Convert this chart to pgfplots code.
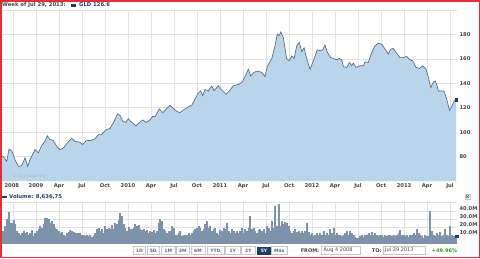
\documentclass[border=0pt]{standalone}
\usepackage{pgfplots}
\pgfplotsset{compat=1.18}
\usepackage{fontspec}
\setmainfont{DejaVu Sans}
\definecolor{areafill}{HTML}{BAD5EA}
\definecolor{lineclr}{HTML}{52687F}
\definecolor{gridclr}{HTML}{E2E2E2}
\definecolor{navy}{HTML}{1F3D6B}
\definecolor{txtgrey}{HTML}{444444}
\definecolor{volfill}{HTML}{B6C5D5}
\definecolor{voldraw}{HTML}{7E93AA}
\definecolor{redframe}{HTML}{E0303C}
\definecolor{pctgreen}{HTML}{2E9A2E}
\definecolor{btnborder}{HTML}{C8C8C8}
\definecolor{btntext}{HTML}{5A6B80}
\begin{document}
\begin{tikzpicture}[x=1pt,y=1pt]
\useasboundingbox (0,0) rectangle (480,258);
\begin{axis}[at={(0pt,77pt)}, anchor=south west, scale only axis,
  width=457pt, height=171pt,
  xmin=2008.609, xmax=2013.576, ymin=60, ymax=200,
  axis line style={draw=none}, major tick length=0pt,
  grid=major, grid style={gridclr, line width=0.6pt},
  xtick={2008.75,2009,2009.25,2009.5,2009.75,2010,2010.25,2010.5,2010.75,2011,2011.25,2011.5,2011.75,2012,2012.25,2012.5,2012.75,2013,2013.25,2013.5},
  xticklabels={,2009,Apr,Jul,Oct,2010,Apr,Jul,Oct,2011,Apr,Jul,Oct,2012,Apr,Jul,Oct,2013,Apr,Jul},
  extra x ticks={2008.609}, extra x tick labels={2008}, extra x tick style={grid=none, xticklabel style={anchor=north west, xshift=1pt}},
  ytick={80,100,120,140,160,180}, extra y ticks={200}, extra y tick labels={},
  yticklabel pos=right,
  /pgf/number format/assume math mode=true,
  ticklabel style={font=\bfseries\fontsize{5.2}{6}\selectfont, text=txtgrey},
  xticklabel style={yshift=1pt},
  yticklabel style={xshift=-1pt},
]
\addplot[fill=areafill, draw=none] coordinates {
(2008.609,81.6) (2008.645,80) (2008.682,76) (2008.707,86) (2008.736,85) (2008.772,77.5) (2008.808,72) (2008.845,72.5) (2008.881,79) (2008.910,72) (2008.935,77.5) (2008.989,85.7) (2009.025,83) (2009.062,89) (2009.098,92.5) (2009.123,97) (2009.152,94) (2009.188,93.3) (2009.225,88.4) (2009.261,85.7) (2009.297,87) (2009.334,90.6) (2009.388,95) (2009.424,92.5) (2009.478,91.7) (2009.508,89.8) (2009.544,93) (2009.606,93.4) (2009.642,94.5) (2009.678,98) (2009.714,98) (2009.761,102) (2009.805,103) (2009.840,107.6) (2009.888,115) (2009.913,113.7) (2009.943,109) (2009.978,108) (2010.003,111) (2010.041,108) (2010.087,105) (2010.123,108) (2010.160,110) (2010.196,108) (2010.239,110) (2010.269,113) (2010.294,112.6) (2010.340,119) (2010.378,116) (2010.413,118.6) (2010.457,122) (2010.486,120) (2010.530,117) (2010.565,116) (2010.601,118) (2010.656,120.8) (2010.693,122) (2010.728,127) (2010.765,132) (2010.790,133.7) (2010.812,130) (2010.837,135) (2010.873,133.7) (2010.910,137.8) (2010.938,134) (2010.982,138) (2011.019,134.5) (2011.066,131) (2011.101,133.7) (2011.145,138) (2011.199,139) (2011.236,140.5) (2011.272,145.5) (2011.308,151.5) (2011.334,146) (2011.370,149) (2011.406,150) (2011.454,149) (2011.489,145.5) (2011.515,154) (2011.562,160) (2011.598,170.7) (2011.623,180.3) (2011.645,179) (2011.660,182) (2011.688,177.6) (2011.725,160) (2011.754,158.5) (2011.780,162.5) (2011.805,160.3) (2011.834,170.7) (2011.862,173.5) (2011.888,166) (2011.914,169) (2011.943,160) (2011.979,151.5) (2012.015,158.4) (2012.058,167.5) (2012.087,166.6) (2012.117,167.5) (2012.142,171.3) (2012.167,165.3) (2012.203,161) (2012.232,160.3) (2012.269,159.2) (2012.297,160.3) (2012.323,159.2) (2012.341,153.7) (2012.378,153) (2012.406,157) (2012.432,154.3) (2012.449,156.5) (2012.479,153) (2012.522,154.3) (2012.558,154.3) (2012.577,157.6) (2012.612,157) (2012.649,165.3) (2012.685,170.7) (2012.721,172.7) (2012.758,172) (2012.794,168) (2012.830,164) (2012.856,168) (2012.884,168.5) (2012.913,165.3) (2012.957,161) (2012.993,161) (2013.030,162) (2013.058,159.7) (2013.095,158.3) (2013.131,153) (2013.167,152.1) (2013.204,154.3) (2013.240,151.5) (2013.265,144.7) (2013.291,136.5) (2013.319,141) (2013.338,142) (2013.356,139) (2013.373,133.7) (2013.410,133.7) (2013.435,133.7) (2013.465,126.8) (2013.493,118) (2013.519,120.9) (2013.544,125.5) (2013.566,126.6)
} \closedcycle;
\addplot[lineclr, line width=0.65pt] coordinates {
(2008.609,81.6) (2008.645,80) (2008.682,76) (2008.707,86) (2008.736,85) (2008.772,77.5) (2008.808,72) (2008.845,72.5) (2008.881,79) (2008.910,72) (2008.935,77.5) (2008.989,85.7) (2009.025,83) (2009.062,89) (2009.098,92.5) (2009.123,97) (2009.152,94) (2009.188,93.3) (2009.225,88.4) (2009.261,85.7) (2009.297,87) (2009.334,90.6) (2009.388,95) (2009.424,92.5) (2009.478,91.7) (2009.508,89.8) (2009.544,93) (2009.606,93.4) (2009.642,94.5) (2009.678,98) (2009.714,98) (2009.761,102) (2009.805,103) (2009.840,107.6) (2009.888,115) (2009.913,113.7) (2009.943,109) (2009.978,108) (2010.003,111) (2010.041,108) (2010.087,105) (2010.123,108) (2010.160,110) (2010.196,108) (2010.239,110) (2010.269,113) (2010.294,112.6) (2010.340,119) (2010.378,116) (2010.413,118.6) (2010.457,122) (2010.486,120) (2010.530,117) (2010.565,116) (2010.601,118) (2010.656,120.8) (2010.693,122) (2010.728,127) (2010.765,132) (2010.790,133.7) (2010.812,130) (2010.837,135) (2010.873,133.7) (2010.910,137.8) (2010.938,134) (2010.982,138) (2011.019,134.5) (2011.066,131) (2011.101,133.7) (2011.145,138) (2011.199,139) (2011.236,140.5) (2011.272,145.5) (2011.308,151.5) (2011.334,146) (2011.370,149) (2011.406,150) (2011.454,149) (2011.489,145.5) (2011.515,154) (2011.562,160) (2011.598,170.7) (2011.623,180.3) (2011.645,179) (2011.660,182) (2011.688,177.6) (2011.725,160) (2011.754,158.5) (2011.780,162.5) (2011.805,160.3) (2011.834,170.7) (2011.862,173.5) (2011.888,166) (2011.914,169) (2011.943,160) (2011.979,151.5) (2012.015,158.4) (2012.058,167.5) (2012.087,166.6) (2012.117,167.5) (2012.142,171.3) (2012.167,165.3) (2012.203,161) (2012.232,160.3) (2012.269,159.2) (2012.297,160.3) (2012.323,159.2) (2012.341,153.7) (2012.378,153) (2012.406,157) (2012.432,154.3) (2012.449,156.5) (2012.479,153) (2012.522,154.3) (2012.558,154.3) (2012.577,157.6) (2012.612,157) (2012.649,165.3) (2012.685,170.7) (2012.721,172.7) (2012.758,172) (2012.794,168) (2012.830,164) (2012.856,168) (2012.884,168.5) (2012.913,165.3) (2012.957,161) (2012.993,161) (2013.030,162) (2013.058,159.7) (2013.095,158.3) (2013.131,153) (2013.167,152.1) (2013.204,154.3) (2013.240,151.5) (2013.265,144.7) (2013.291,136.5) (2013.319,141) (2013.338,142) (2013.356,139) (2013.373,133.7) (2013.410,133.7) (2013.435,133.7) (2013.465,126.8) (2013.493,118) (2013.519,120.9) (2013.544,125.5) (2013.566,126.6)
};
\addplot[only marks, mark=square*, mark size=1.2pt, navy] coordinates {(2013.566,126.6)};
\node[anchor=west, font=\fontsize{3.5}{4}\selectfont, text=areafill!75!black!55!areafill] at (rel axis cs:0.02,0.03) {© 2013 Yahoo! Inc.};
\end{axis}

\begin{axis}[at={(0pt,15pt)}, anchor=south west, scale only axis,
  width=457pt, height=41pt,
  xmin=0, xmax=274.2, ymin=0, ymax=51,
  axis line style={draw=none}, major tick length=0pt,
  grid=major, grid style={gridclr, line width=0.6pt},
  xtick={7.78,21.58,35.38,49.18,62.98,76.78,90.58,104.38,118.18,131.98,145.78,159.58,173.38,187.18,200.98,214.78,228.58,242.38,256.18,269.98},
  xticklabels={},
  ytick={10,20,30,40}, yticklabels={10.0M,20.0M,30.0M,40.0M},
  extra y ticks={51}, extra y tick labels={},
  yticklabel pos=right,
  ticklabel style={font=\bfseries\fontsize{5.2}{6}\selectfont, text=txtgrey},
  yticklabel style={xshift=-1pt, yshift=2pt},
]
\addplot[ybar, bar width=0.95pt, fill=volfill, draw=voldraw, line width=0.25pt] coordinates {
(0,14.6) (1,14.6) (2,14.6) (3,20.8) (4,29.2) (5,38.3) (6,24.2) (7,25) (8,28.3) (9,22.9)
(10,14.6) (11,12.5) (12,10.4) (13,12.5) (14,14.6) (15,12.5) (16,13.3) (17,10.4) (18,12.5) (19,15.8)
(20,8.3) (21,12.5) (22,14.6) (23,16.7) (24,20.8) (25,18.8) (26,22.9) (27,31.3) (28,31.3) (29,30)
(30,25) (31,27.1) (32,22.9) (33,18.8) (34,16.7) (35,14.6) (36,12.5) (37,13.3) (38,10.4) (39,8.3)
(40,12.5) (41,13.3) (42,15.8) (43,14.6) (44,13.3) (45,12.5) (46,12.5) (47,11.7) (48,12.5) (49,10.4)
(50,9.2) (51,8.3) (52,10.4) (53,8.3) (54,10.4) (55,7.5) (56,8.3) (57,12.5) (58,17.5) (59,18.8)
(60,14.6) (61,16.7) (62,12.5) (63,20.8) (64,17.5) (65,18.8) (66,16.7) (67,21.7) (68,17.5) (69,25)
(70,22.9) (71,28.3) (72,37.5) (73,33.3) (74,22.9) (75,18.8) (76,14.6) (77,20) (78,17.5) (79,16.7)
(80,18.8) (81,22.9) (82,20.8) (83,21.7) (84,17.5) (85,15.8) (86,16.7) (87,14.6) (88,15.8) (89,12.5)
(90,14.6) (91,13.3) (92,15.8) (93,12.5) (94,14.6) (95,25) (96,29.2)
(97,27.1) (98,16.7) (99,14.6) (100,12.5) (101,14.6) (102,14.6) (103,20.8) (104,18.8) (105,10.4) (106,10.4)
(107,12.5) (108,14.6) (109,8.3) (110,10.4) (111,10.4) (112,10.4) (113,12.5) (114,10.4) (115,12.5) (116,14.6)
(117,16.7) (118,18.8) (119,20.8) (120,18.8) (121,14.6) (122,16.7) (123,22.9) (124,27.1) (125,18.8) (126,20.8)
(127,14.6) (128,16.7) (129,18.8) (130,12.5) (131,10.4) (132,15.8) (133,14.6) (134,18.8) (135,16.7) (136,24.2)
(137,14.6) (138,12.5) (139,16.7) (140,14.6) (141,12.5) (142,14.6) (143,12.5) (144,14.6) (145,18.8) (146,12.5)
(147,16.7) (148,14.6) (149,18.8) (150,33.3) (151,16.7) (152,18.8) (153,14.6) (154,12.5) (155,15.8) (156,17.5)
(157,14.6) (158,16.7) (159,12.5) (160,20.8) (161,18.8) (162,14.6) (163,27.1) (164,18.8) (165,45.8) (166,20.8)
(167,48.3) (168,20.8) (169,27.1) (170,22.9) (171,25.8) (172,24.2) (173,20.8) (174,14.6) (175,12.5) (176,14.6)
(177,16.7) (178,13.3) (179,14.6) (180,12.5) (181,14.6) (182,12.5) (183,14.6) (184,25) (185,13.3)
(186,10.4) (187,12.5) (188,8.3) (189,10.4) (190,11.7) (191,9.2) (192,12.5) (193,10.4) (194,14.6) (195,9.2)
(196,12.5) (197,10.4) (198,16.7) (199,11.7) (200,18.8) (201,10.4) (202,12.5) (203,9.2) (204,10.4) (205,8.3)
(206,10.4) (207,12.5) (208,14.6) (209,10.4) (210,14.6) (211,11.7) (212,9.2) (213,7.5) (214,6.3) (215,6.3)
(216,8.3) (217,10.4) (218,7.5) (219,9.2) (220,10.4) (221,12.5) (222,10.4) (223,13.3) (224,9.2) (225,11.7)
(226,9.2) (227,8.3) (228,10.4) (229,9.2) (230,7.5) (231,9.2) (232,8.3) (233,10.4) (234,9.2) (235,8.3)
(236,10.4) (237,8.3) (238,9.2) (239,11.7) (240,15.8) (241,9.2) (242,10.4) (243,8.3) (244,9.2) (245,7.5)
(246,10.4) (247,9.2) (248,12.5) (249,10.4) (250,16.7) (251,12.5) (252,10.4) (253,8.3) (254,6.3) (255,9.2)
(256,8.3) (257,8.3) (258,39.6) (259,14.6) (260,10.4) (261,8.3) (262,12.5) (263,9.2) (264,13.3) (265,8.3)
(266,10.4) (267,16.7) (268,9.2) (269,8.3) (270,20.8) (271,9.2) (272,8.3) (273,6.3) (274,8.3)
};
\addplot[only marks, mark=square*, mark size=1.2pt, navy] coordinates {(274,8.3)};
\end{axis}

% legends
\node[anchor=west, font=\bfseries\fontsize{5.3}{6}\selectfont, text=txtgrey, inner sep=0pt] at (2,253) {Week of Jul 29, 2013:};
\fill[navy] (71,251.5) rectangle (76,254.5);
\node[anchor=west, font=\bfseries\fontsize{5.3}{6}\selectfont, text=navy, inner sep=0pt] at (79,253) {GLD 126.6};
\fill[navy] (2,59.8) rectangle (7,62.2);
\node[anchor=west, font=\bfseries\fontsize{5.3}{6}\selectfont, text=navy, inner sep=0pt] at (9,61) {Volume: 8,636,75};
% small close box
\draw[btnborder, fill=gray!15] (465,59) rectangle (470,64);
\draw[txtgrey, line width=0.5pt] (466.3,60.3) -- (468.7,62.7) (466.3,62.7) -- (468.7,60.3);

% bottom bar
\foreach \a/\b/\t in {133.2/145.6/1D, 147/159.6/5D, 161.5/175/1M, 176.2/189.2/3M, 190.8/205.2/6M, 207/224/YTD, 225.6/240/1Y, 241.2/255.5/2Y, 271.7/287/Max} {
  \draw[btnborder, fill=white, line width=0.5pt] (\a,3.5) rectangle (\b,11.5);
  \node[font=\bfseries\fontsize{4.5}{5}\selectfont, text=btntext, inner sep=0pt] at ({(\a+\b)/2},7.5) {\t};
}
\fill[navy] (256.7,3.5) rectangle (271.2,11.5);
\node[font=\bfseries\fontsize{4.5}{5}\selectfont, text=white, inner sep=0pt] at (264,7.5) {5Y};
\node[font=\bfseries\fontsize{5}{6}\selectfont, text=txtgrey, inner sep=0pt] at (310,7.5) {FROM:};
\draw[btnborder, line width=0.5pt] (321.5,3.3) rectangle (360,11.7);
\node[anchor=west, font=\fontsize{5}{6}\selectfont, text=txtgrey, inner sep=0pt] at (323.5,7.5) {Aug 4 2008};
\node[font=\bfseries\fontsize{5}{6}\selectfont, text=txtgrey, inner sep=0pt] at (376.7,7.5) {TO:};
\draw[btnborder, line width=0.5pt] (383,3.3) rectangle (425,11.7);
\node[anchor=west, font=\fontsize{5}{6}\selectfont, text=txtgrey, inner sep=0pt] at (385,7.5) {Jul 29 2013};
\node[font=\bfseries\fontsize{5}{6}\selectfont, text=pctgreen, inner sep=0pt] at (444.5,7.5) {+49.96\%};

\draw[redframe, line width=1.5pt] (0.75,0.75) rectangle (479.25,257.25);
\end{tikzpicture}
\end{document}
